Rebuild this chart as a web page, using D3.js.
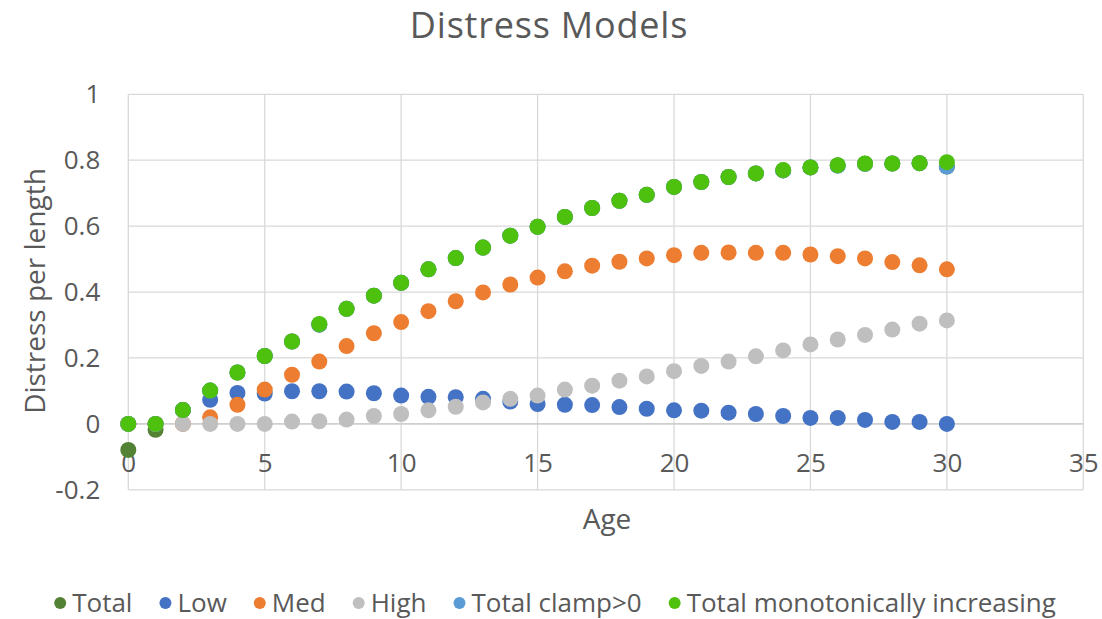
<!DOCTYPE html>
<html>
<head>
<meta charset="utf-8">
<script src="https://cdn.jsdelivr.net/npm/d3@7"></script>
<style>
  html, body { margin: 0; padding: 0; background: #fff; }
  svg { display: block; font-family: "Open Sans", sans-serif; }
</style>
</head>
<body>
<div id="chart"></div>
<script>
// values
const ages = d3.range(0, 31);
const total = [-0.079, -0.018, 0.042, 0.101, 0.156, 0.206, 0.250, 0.301, 0.349, 0.389, 0.428, 0.469, 0.503, 0.535, 0.571, 0.598, 0.628, 0.655, 0.677, 0.695, 0.719, 0.734, 0.749, 0.760, 0.769, 0.778, 0.784, 0.789, 0.790, 0.791, 0.781];
const low = [0, 0, 0.042, 0.073, 0.094, 0.092, 0.099, 0.099, 0.098, 0.093, 0.086, 0.082, 0.081, 0.076, 0.068, 0.060, 0.058, 0.057, 0.051, 0.046, 0.041, 0.040, 0.034, 0.030, 0.024, 0.018, 0.018, 0.012, 0.006, 0.006, 0.000];
const med = [0, 0, 0, 0.020, 0.058, 0.104, 0.149, 0.189, 0.236, 0.275, 0.309, 0.342, 0.372, 0.399, 0.423, 0.444, 0.463, 0.480, 0.492, 0.502, 0.512, 0.519, 0.520, 0.519, 0.519, 0.514, 0.509, 0.502, 0.491, 0.481, 0.469];
const high = [0, 0, 0, 0, 0, 0, 0.007, 0.008, 0.013, 0.024, 0.030, 0.041, 0.052, 0.065, 0.076, 0.086, 0.104, 0.116, 0.131, 0.144, 0.160, 0.176, 0.189, 0.205, 0.223, 0.241, 0.256, 0.270, 0.286, 0.304, 0.314];
const totalClamp = [0, 0, 0.042, 0.101, 0.156, 0.206, 0.250, 0.301, 0.349, 0.389, 0.428, 0.469, 0.503, 0.535, 0.571, 0.598, 0.628, 0.655, 0.677, 0.695, 0.719, 0.734, 0.749, 0.760, 0.769, 0.778, 0.784, 0.789, 0.790, 0.791, 0.781];
const totalMono = [0, 0, 0.042, 0.101, 0.156, 0.206, 0.250, 0.303, 0.349, 0.389, 0.428, 0.469, 0.503, 0.535, 0.571, 0.598, 0.628, 0.655, 0.677, 0.695, 0.719, 0.734, 0.749, 0.760, 0.770, 0.778, 0.785, 0.790, 0.790, 0.791, 0.794];

const seriesNames = ['Total', 'Low', 'Med', 'High', 'Total clamp>0', 'Total monotonically increasing'];
const seriesValues = [total, low, med, high, totalClamp, totalMono];
const seriesColors = ['#548235', '#4472C4', '#ED7D31', '#BFBFBF', '#5B9BD5', '#4EC00E'];
const xTicks = [0, 5, 10, 15, 20, 25, 30, 35];
const yTicks = [-0.2, 0, 0.2, 0.4, 0.6, 0.8, 1];

const width = 1102, height = 619;
const plot = { left: 128.3, right: 1083.3, top: 94.3, bottom: 489.8 };
const textColor = '#595959';
const gridColor = '#D9D9D9';

const svg = d3.select('#chart').append('svg').attr('width', width).attr('height', height);

const x = d3.scaleLinear().domain([0, 35]).range([plot.left, plot.right]);
const y = d3.scaleLinear().domain([-0.2, 1]).range([plot.bottom, plot.top]);

// gridlines
svg.append('g').selectAll('line').data(yTicks).enter().append('line')
  .attr('x1', plot.left).attr('x2', plot.right)
  .attr('y1', (d) => y(d)).attr('y2', (d) => y(d))
  .attr('stroke', gridColor).attr('stroke-width', 1.3);
svg.append('g').selectAll('line').data(xTicks).enter().append('line')
  .attr('y1', plot.top).attr('y2', plot.bottom)
  .attr('x1', (d) => x(d)).attr('x2', (d) => x(d))
  .attr('stroke', gridColor).attr('stroke-width', 1.3);
// horizontal axis line at y=0
svg.append('line').attr('x1', plot.left).attr('x2', plot.right)
  .attr('y1', y(0)).attr('y2', y(0)).attr('stroke', '#C8C8C8').attr('stroke-width', 1.3);

// y axis labels
const yAxis = svg.append('g').attr('transform', 'translate(' + (plot.left - 28) + ',0)')
  .call(d3.axisLeft(y).tickValues(yTicks).tickSize(0).tickPadding(0).tickFormat((d) => String(+d.toFixed(1))));
yAxis.select('.domain').remove();
yAxis.selectAll('text').attr('fill', textColor).style('font-size', '26px').style('font-family', '"Open Sans", sans-serif');

// x axis labels, placed under the zero line
const xAxis = svg.append('g').attr('transform', 'translate(0,' + (y(0) + 39) + ')')
  .call(d3.axisBottom(x).tickValues(xTicks).tickSize(0).tickPadding(0).tickFormat((d) => String(d)));
xAxis.select('.domain').remove();
xAxis.selectAll('text').attr('fill', textColor).attr('dy', '0.35em').style('font-size', '26px').style('font-family', '"Open Sans", sans-serif');

// markers
seriesValues.forEach((values, i) => {
  svg.append('g').selectAll('circle').data(ages).enter().append('circle')
    .attr('cx', (a) => x(a))
    .attr('cy', (a, j) => y(values[j]))
    .attr('r', 8)
    .attr('fill', seriesColors[i]);
});

// title and axis titles
svg.append('text').attr('x', 549).attr('y', 38).attr('text-anchor', 'middle')
  .attr('fill', textColor).style('font-size', '36px').style('letter-spacing', '0.8px').text('Distress Models');
svg.append('text').attr('x', 607).attr('y', 519).attr('dy', '0.35em').attr('text-anchor', 'middle')
  .attr('fill', textColor).style('font-size', '28px').text('Age');
svg.append('text').attr('transform', 'translate(35,291) rotate(-90)').attr('dy', '0.35em').attr('text-anchor', 'middle')
  .attr('fill', textColor).style('font-size', '28px').text('Distress per length');

// legend
const legend = svg.append('g');
let cursor = 0;
seriesNames.forEach((name, i) => {
  const item = legend.append('g').attr('transform', 'translate(' + cursor + ',0)');
  item.append('circle').attr('cx', 6).attr('cy', 0).attr('r', 6).attr('fill', seriesColors[i]);
  const label = item.append('text').attr('x', 18).attr('dy', '0.35em')
    .attr('fill', textColor).style('font-size', '26px').text(name);
  cursor += 18 + label.node().getComputedTextLength() + 27;
});
const legendWidth = cursor - 27;
legend.attr('transform', 'translate(' + (555 - legendWidth / 2) + ',603)');
</script>
</body>
</html>
